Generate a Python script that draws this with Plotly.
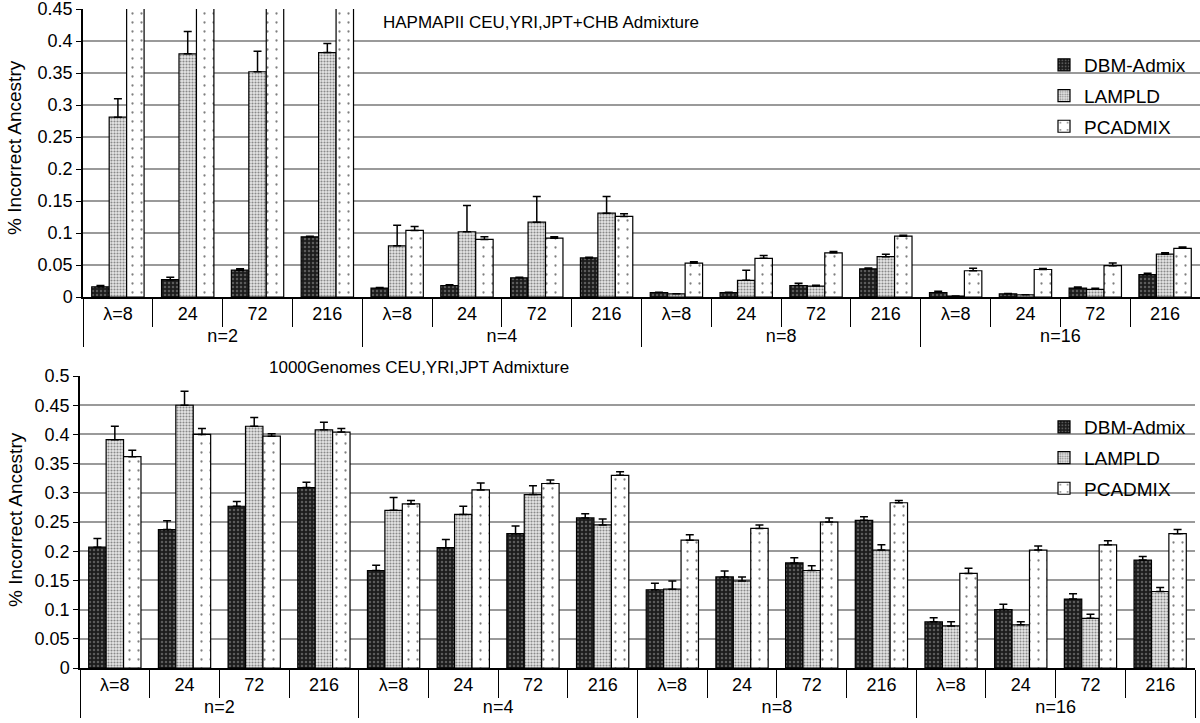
import plotly.graph_objects as go

n_groups = ["n=2", "n=4", "n=8", "n=16"]
lam_labels = ["λ=8", "24", "72", "216"]
series = ["DBM-Admix", "LAMPLD", "PCADMIX"]

# Top panel: HAPMAPII (PCADMIX n=2 bars exceed the axis and are clipped)
hap_dbm = [0.016, 0.027, 0.042, 0.094, 0.014, 0.018, 0.030, 0.061, 0.007, 0.007, 0.018, 0.044, 0.007, 0.005, 0.014, 0.035]
hap_dbm_err = [0.002, 0.004, 0.002, 0.001, 0.001, 0.001, 0.001, 0.001, 0.0005, 0.0005, 0.0035, 0.0015, 0.002, 0.0005, 0.0015, 0.002]
hap_lam = [0.281, 0.380, 0.352, 0.382, 0.080, 0.102, 0.117, 0.131, 0.005, 0.026, 0.017, 0.063, 0.0015, 0.0035, 0.012, 0.067]
hap_lam_err = [0.029, 0.035, 0.032, 0.014, 0.032, 0.041, 0.040, 0.026, 0.0, 0.016, 0.0015, 0.004, 0.0, 0.0, 0.0015, 0.002]
hap_pca = [0.60, 0.60, 0.60, 0.60, 0.104, 0.090, 0.092, 0.126, 0.053, 0.0605, 0.069, 0.095, 0.041, 0.043, 0.049, 0.076]
hap_pca_err = [0.0, 0.0, 0.0, 0.0, 0.006, 0.004, 0.002, 0.004, 0.002, 0.0045, 0.002, 0.0015, 0.004, 0.0015, 0.004, 0.002]

# Bottom panel: 1000 Genomes
kg_dbm = [0.207, 0.237, 0.277, 0.309, 0.167, 0.206, 0.230, 0.257, 0.134, 0.156, 0.180, 0.253, 0.079, 0.100, 0.118, 0.185]
kg_dbm_err = [0.015, 0.015, 0.008, 0.009, 0.009, 0.014, 0.013, 0.007, 0.011, 0.010, 0.009, 0.006, 0.007, 0.009, 0.009, 0.006]
kg_lam = [0.391, 0.450, 0.414, 0.408, 0.270, 0.263, 0.297, 0.245, 0.135, 0.149, 0.167, 0.202, 0.072, 0.074, 0.085, 0.131]
kg_lam_err = [0.023, 0.024, 0.015, 0.013, 0.022, 0.014, 0.015, 0.010, 0.014, 0.007, 0.008, 0.009, 0.007, 0.005, 0.007, 0.007]
kg_pca = [0.362, 0.400, 0.397, 0.404, 0.281, 0.305, 0.316, 0.330, 0.219, 0.239, 0.250, 0.283, 0.162, 0.202, 0.211, 0.230]
kg_pca_err = [0.011, 0.010, 0.004, 0.006, 0.006, 0.012, 0.006, 0.006, 0.009, 0.006, 0.007, 0.004, 0.009, 0.007, 0.007, 0.007]

x_outer = [g for g in n_groups for _ in lam_labels]
x_inner = [l for _ in n_groups for l in lam_labels]
xcat = [x_outer, x_inner]

FONT = "Liberation Sans, Arial, sans-serif"
patterns = {
    "DBM-Admix": dict(shape=".", bgcolor="#1c1c1c", fgcolor="#9a9a9a", size=4, solidity=0.3),
    "LAMPLD": dict(shape=".", bgcolor="#e6e6e6", fgcolor="#2c2c2c", size=3, solidity=0.4),
    "PCADMIX": dict(shape=".", bgcolor="#ffffff", fgcolor="#000000", size=9, solidity=0.05),
}

fig = go.Figure()

def add_panel(vals, errs, xa, ya, leg):
    for name, v, e in zip(series, vals, errs):
        fig.add_trace(go.Bar(
            x=xcat, y=v, name=name, xaxis=xa, yaxis=ya, legend=leg,
            legendgroup=leg + name,
            marker=dict(color="white", pattern=patterns[name], line=dict(color="black", width=1.2)),
            error_y=dict(type="data", array=e, arrayminus=[0] * len(e), symmetric=False,
                         color="black", thickness=1.5, width=4),
        ))

add_panel([hap_dbm, hap_lam, hap_pca], [hap_dbm_err, hap_lam_err, hap_pca_err], "x", "y", "legend")
add_panel([kg_dbm, kg_lam, kg_pca], [kg_dbm_err, kg_lam_err, kg_pca_err], "x2", "y2", "legend2")

xcommon = dict(type="multicategory", showline=True, linecolor="black", linewidth=1.5,
               ticks="outside", tickson="boundaries", ticklen=28, tickcolor="black", tickwidth=1.2,
               showdividers=True, dividercolor="black", dividerwidth=1.2,
               tickfont=dict(family=FONT, size=18, color="black"), automargin=False)
ycommon = dict(showline=True, linecolor="black", linewidth=1.5, ticks="outside", ticklen=5,
               tickcolor="black", showgrid=True, gridcolor="#9a9a9a", gridwidth=1.5,
               tickfont=dict(family=FONT, size=18, color="black"), tick0=0, dtick=0.05,
               automargin=False, zeroline=False, ticklabeloverflow="allow")

fig.update_layout(
    width=1200, height=723,
    margin=dict(l=0, r=0, t=0, b=0),
    paper_bgcolor="white", plot_bgcolor="white",
    barmode="group", bargap=0.25, bargroupgap=0,
    font=dict(family=FONT, color="black"),
    xaxis=dict(domain=[83 / 1200, 1.0], anchor="y", **xcommon),
    yaxis=dict(domain=[1 - 297 / 723, 1 - 9 / 723], anchor="x", range=[0, 0.4501], **ycommon),
    xaxis2=dict(domain=[80 / 1200, 1195 / 1200], anchor="y2", **xcommon),
    yaxis2=dict(domain=[1 - 668 / 723, 1 - 376 / 723], anchor="x2", range=[0, 0.5001], **ycommon),
    legend=dict(x=1044 / 1200, y=1 - 46 / 723, xanchor="left", yanchor="top",
                bgcolor="rgba(0,0,0,0)", font=dict(family=FONT, size=19), tracegroupgap=3),
    legend2=dict(x=1044 / 1200, y=1 - 408 / 723, xanchor="left", yanchor="top",
                 bgcolor="rgba(0,0,0,0)", font=dict(family=FONT, size=19), tracegroupgap=3),
    annotations=[
        dict(text="HAPMAPII CEU,YRI,JPT+CHB Admixture", x=541 / 1200, y=1 - 22 / 723,
             xref="paper", yref="paper", xanchor="center", yanchor="middle", showarrow=False,
             font=dict(family=FONT, size=17)),
        dict(text="1000Genomes CEU,YRI,JPT Admixture", x=419 / 1200, y=1 - 367 / 723,
             xref="paper", yref="paper", xanchor="center", yanchor="middle", showarrow=False,
             font=dict(family=FONT, size=17)),
        dict(text="% Incorrect Ancestry", x=15 / 1200, y=1 - 148 / 723, textangle=-90,
             xref="paper", yref="paper", xanchor="center", yanchor="middle", showarrow=False,
             font=dict(family=FONT, size=19)),
        dict(text="% Incorrect Ancestry", x=15 / 1200, y=1 - 520 / 723, textangle=-90,
             xref="paper", yref="paper", xanchor="center", yanchor="middle", showarrow=False,
             font=dict(family=FONT, size=19)),
    ],
)

fig.write_html("out.html", config={"displayModeBar": False},
               post_script="document.body.style.margin='0';document.body.style.overflow='hidden';")
